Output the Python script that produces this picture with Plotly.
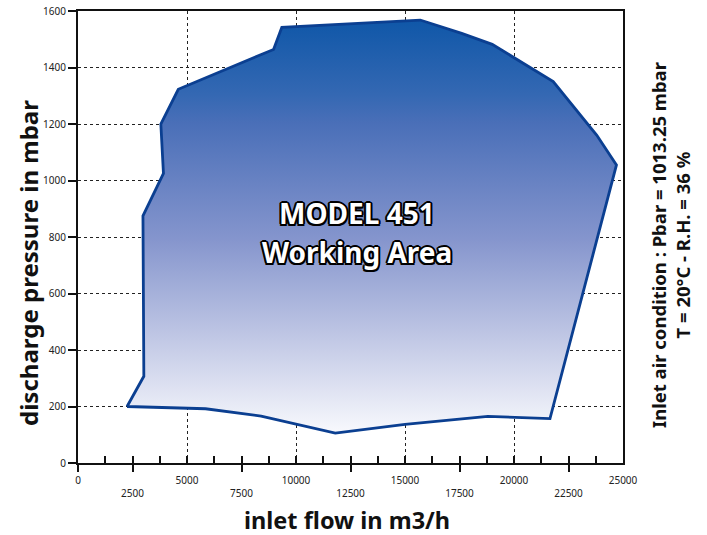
import plotly.graph_objects as go

# Working-area polygon (inlet flow m3/h, discharge pressure mbar)
flow = [2250, 5850, 8400, 11800, 15000, 18800, 21650, 24700, 23800, 21800,
        19000, 17600, 15700, 9350, 8970, 4600, 3800, 3920, 2980, 3020, 2250]
pressure = [200, 192, 166, 106, 137, 165, 157, 1055, 1160, 1350,
            1482, 1521, 1568, 1542, 1464, 1323, 1200, 1025, 875, 307, 200]

x_major = [0, 5000, 10000, 15000, 20000, 25000]
x_major_text = ["0", "5000", "10000", "15000", "20000", "25000"]
x_stagger = [0, 2500, 7500, 12500, 17500, 22500]
x_stagger_text = ["", "<br>2500", "<br>7500", "<br>12500", "<br>17500", "<br>22500"]
y_ticks = [0, 200, 400, 600, 800, 1000, 1200, 1400, 1600]

FONT = "Noto Sans"
W, H = 707, 535
# plot area in screen pixels: x 78..623, y 11..463
L, T = 78, 11
R, B = W - 623, H - 463
pw, ph = W - L - R, H - T - B


def px(xs, ys):
    return (xs - L) / pw, (H - B - ys) / ph


fig = go.Figure()
fig.add_trace(go.Scatter(
    x=flow, y=pressure, mode="lines", fill="toself",
    line=dict(color="#0b3f91", width=2.8),
    fillgradient=dict(
        type="vertical", start=min(pressure), stop=max(pressure),
        colorscale=[[0, "#f8f9fd"], [0.2, "#c8cee8"], [0.47, "#8595cd"],
                    [0.75, "#4a6fb8"], [0.82, "#3468b3"], [1, "#0f57a8"]]),
    hoverinfo="skip", showlegend=False))

fig.add_trace(go.Scatter(x=[0, 25000], y=[0, 0], xaxis="x2", mode="markers",
                         marker=dict(opacity=0), hoverinfo="skip", showlegend=False))

tickfont = dict(size=10, family=FONT, color="#222")
fig.update_layout(
    template="none",
    width=W, height=H,
    margin=dict(l=L, r=R, t=T, b=B, autoexpand=False),
    paper_bgcolor="white", plot_bgcolor="white",
    font=dict(family=FONT, color="#111"),
    xaxis=dict(range=[0, 25000], tickmode="array", tickvals=x_major, ticktext=x_major_text,
               ticks="inside", ticklen=7, tickwidth=2, tickcolor="#111",
               minor=dict(tickmode="linear", tick0=0, dtick=1250, ticks="inside",
                          ticklen=7, tickwidth=2, tickcolor="#111", showgrid=False),
               showline=True, linewidth=2, linecolor="#111", mirror=True,
               showgrid=True, gridcolor="#222", gridwidth=1, griddash="dot",
               zeroline=False, tickfont=tickfont, ticklabelstandoff=7,
               ticklabeloverflow="allow", automargin=False, fixedrange=True),
    xaxis2=dict(range=[0, 25000], overlaying="x", anchor="y", side="bottom",
                tickmode="array", tickvals=x_stagger, ticktext=x_stagger_text,
                ticks="outside", ticklen=8, tickwidth=2, tickcolor="#111",
                showgrid=False, showline=False, zeroline=False,
                tickfont=tickfont, ticklabeloverflow="allow",
                automargin=False, fixedrange=True),
    yaxis=dict(range=[0, 1600], tickmode="array", tickvals=y_ticks,
               ticks="outside", ticklen=8, tickwidth=2, tickcolor="#111",
               showline=True, linewidth=2, linecolor="#111", mirror=True,
               showgrid=True, gridcolor="#222", gridwidth=1, griddash="dot",
               zeroline=False, tickfont=tickfont, ticklabeloverflow="allow",
               automargin=False, fixedrange=True),
)

shadow = ", ".join(f"{dx}px {dy}px 0 #000" for dx, dy in
                   [(-1.5, -1.5), (1.5, -1.5), (-1.5, 1.5), (1.5, 1.5),
                    (0, 2), (2, 0), (0, -2), (-2, 0)])
for txt, yv in [("MODEL 451", 885), ("Working Area", 747)]:
    fig.add_annotation(x=12800, y=yv, xref="x", yref="y", text=txt, showarrow=False,
                       font=dict(size=28, family=FONT, color="white", weight="bold",
                                 shadow=shadow))

ax, ay = px(28, 263)
fig.add_annotation(x=ax, y=ay, xref="paper", yref="paper", text="discharge pressure in mbar",
                   showarrow=False, textangle=-90, xanchor="center", yanchor="middle",
                   font=dict(size=24, family=FONT, color="#111", weight="bold"))
ax, ay = px(347, 520)
fig.add_annotation(x=ax, y=ay, xref="paper", yref="paper",
                   text="inlet flow in m3/h", showarrow=False,
                   xanchor="center", yanchor="middle",
                   font=dict(size=23.5, family=FONT, color="#111", weight="bold"))
ax, ay = px(670, 245)
fig.add_annotation(x=ax, y=ay, xref="paper", yref="paper",
                   text="Inlet air condition : Pbar = 1013.25 mbar<br>T = 20°C - R.H. = 36 %",
                   showarrow=False, textangle=-90, xanchor="center", yanchor="middle",
                   font=dict(size=18.5, family=FONT, color="#111", weight="bold"))

fig.write_html("out.html", config={"displayModeBar": False, "staticPlot": True},
               post_script="document.body.style.margin='0';"
                           "document.body.style.overflow='hidden';")
